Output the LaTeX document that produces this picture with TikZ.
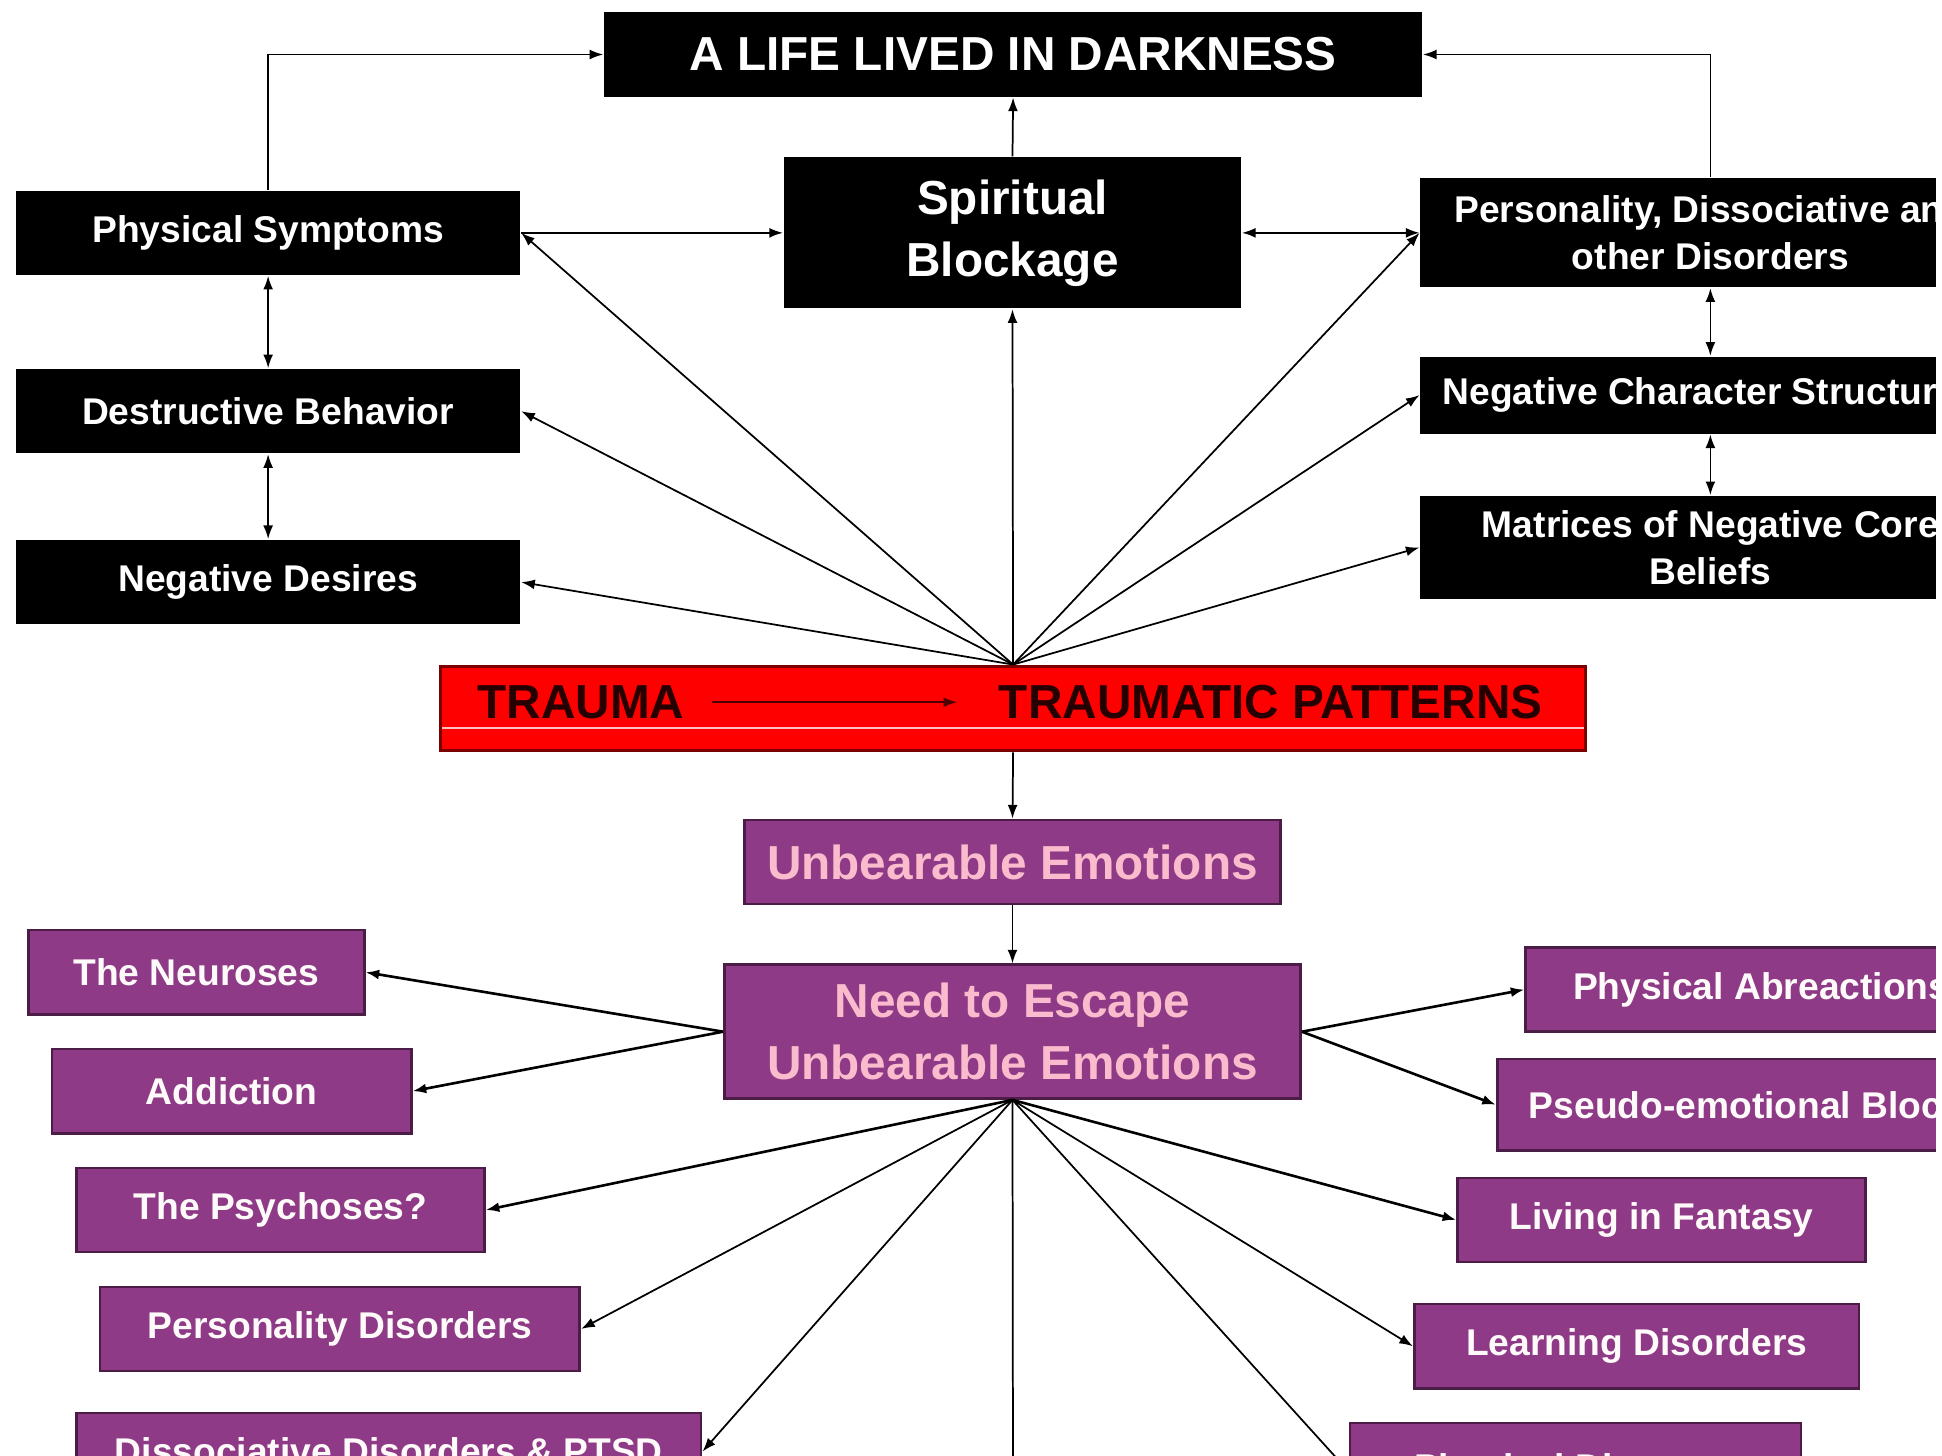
\documentclass[tikz,border=0pt]{standalone}
\usepackage{fontspec}
\setmainfont{Liberation Sans}
\usetikzlibrary{arrows.meta}
\definecolor{plum}{RGB}{142,58,135}
\definecolor{plumedge}{RGB}{75,28,70}
\definecolor{rose}{RGB}{250,188,204}
\definecolor{darkred}{RGB}{125,0,0}

\begin{document}
\begin{tikzpicture}[x=0.01cm,y=-0.01cm,
  small/.style={font=\bfseries\fontsize{8.54}{10.8}\selectfont},
  big/.style={font=\bfseries\fontsize{10.96}{14.2}\selectfont},
  blackbox/.style={fill=black,text=white,inner sep=0,align=center,small},
  purplebox/.style={fill=plum,draw=plumedge,line width=0.6pt,text=white!92!pink,inner sep=0,align=center,small},
  conn/.style={-{Latex[length=1.1mm,width=0.8mm]},line width=0.4pt},
  twoway/.style={{Latex[length=1.1mm,width=0.8mm]}-{Latex[length=1.1mm,width=0.8mm]},line width=0.4pt}]
\useasboundingbox (0,0) rectangle (1568,1175);
\clip (0,0) rectangle (1563,1175);
\node[blackbox,big,minimum width=6.6cm,minimum height=0.68cm] (title) at (818,44) {A LIFE LIVED IN DARKNESS};
\node[blackbox,big,minimum width=3.69cm,minimum height=1.22cm] (spirit) at (817.5,188) {Spiritual\\Blockage};
\node[blackbox,minimum width=4.07cm,minimum height=0.68cm] (physsym) at (216.5,188) {Physical Symptoms};
\node[blackbox,minimum width=4.07cm,minimum height=0.68cm] (destr) at (216.5,332) {Destructive Behavior};
\node[blackbox,minimum width=4.07cm,minimum height=0.68cm] (negdes) at (216.5,470) {Negative Desires};
\node[blackbox,minimum width=4.68cm,minimum height=0.88cm] (persdis) at (1381,188) {Personality, Dissociative and\\other Disorders};
\node[blackbox,minimum width=4.68cm,minimum height=0.62cm] (negchar) at (1381,319) {Negative Character Structures};
\node[blackbox,minimum width=4.68cm,minimum height=0.83cm] (matrices) at (1381,442) {Matrices of Negative Core\\Beliefs};
\node[fill=red,draw=darkred,line width=0.8pt,inner sep=0,minimum width=9.24cm,minimum height=0.68cm] (patterns) at (818,572) {};
\draw[white!75!red,line width=0.4pt] (357,588) -- (1279,588);
\node[big,text=black!85!red,inner sep=0] (trauma) at (469,567) {TRAUMA};
\node[big,text=black!85!red,inner sep=0] (tpat) at (1026,567) {TRAUMATIC PATTERNS};
\node[purplebox,big,text=rose,minimum width=4.33cm,minimum height=0.68cm] (unbear) at (817.5,696) {Unbearable Emotions};
\node[purplebox,big,text=rose,minimum width=4.65cm,minimum height=1.08cm] (escape) at (817.5,833) {Need to Escape\\Unbearable Emotions};
\node[purplebox,minimum width=2.71cm,minimum height=0.68cm] (neuroses) at (158.5,785) {The Neuroses};
\node[purplebox,minimum width=2.90cm,minimum height=0.68cm] (addiction) at (187,881) {Addiction};
\node[purplebox,minimum width=3.29cm,minimum height=0.68cm] (psychoses) at (226.5,977) {The Psychoses?};
\node[purplebox,minimum width=3.87cm,minimum height=0.68cm] (persdisorders) at (274.5,1073) {Personality Disorders};
\node[purplebox,minimum width=5.04cm,minimum height=0.62cm] (dissoc) at (314,1172) {Dissociative Disorders \& PTSD};
\node[purplebox,minimum width=3.80cm,minimum height=0.68cm] (abreact) at (1422,799) {Physical Abreactions};
\node[purplebox,minimum width=4.18cm,minimum height=0.74cm] (pseudo) at (1418,892) {Pseudo-emotional Blocks};
\node[purplebox,minimum width=3.29cm,minimum height=0.68cm] (fantasy) at (1341.5,985) {Living in Fantasy};
\node[purplebox,minimum width=3.59cm,minimum height=0.68cm] (learning) at (1321.5,1087) {Learning Disorders};
\node[purplebox,minimum width=3.64cm,minimum height=0.78cm] (physdis) at (1272,1188) {Physical Diseases};
\coordinate (offbelow) at (818,1260);
\draw[conn] (physsym.north) |- (title.west);
\draw[conn] (persdis.north) |- (title.east);
\draw[conn] (spirit.north) -- (title.south);
\draw[conn] (physsym.east) -- (spirit.west);
\draw[twoway] (spirit.east) -- (persdis.west);
\draw[twoway] (physsym.south) -- (destr.north);
\draw[twoway] (destr.south) -- (negdes.north);
\draw[twoway] (persdis.south) -- (negchar.north);
\draw[twoway] (negchar.south) -- (matrices.north);
\draw[conn] (patterns.north) -- (physsym.east);
\draw[conn] (patterns.north) -- (destr.east);
\draw[conn] (patterns.north) -- (negdes.east);
\draw[conn] (patterns.north) -- (spirit.south);
\draw[conn] (patterns.north) -- (persdis.west);
\draw[conn] (patterns.north) -- (negchar.west);
\draw[conn] (patterns.north) -- (matrices.west);
\draw[conn,draw=black!70!red,shorten <=0.22cm,shorten >=0.33cm] (trauma.east) -- (tpat.west);
\draw[conn] (patterns.south) -- (unbear.north);
\draw[conn] (unbear.south) -- (escape.north);
\draw[conn,line width=0.6pt] (escape.west) -- (neuroses.east);
\draw[conn,line width=0.6pt] (escape.west) -- (addiction.east);
\draw[conn,line width=0.6pt] (escape.east) -- (abreact.west);
\draw[conn,line width=0.6pt] (escape.east) -- (pseudo.west);
\draw[conn,line width=0.6pt] (escape.south) -- (psychoses.east);
\draw[conn] (escape.south) -- (persdisorders.east);
\draw[conn] (escape.south) -- (dissoc.east);
\draw[line width=0.4pt] (escape.south) -- (offbelow);
\draw[conn] (escape.south) -- (physdis.west);
\draw[conn] (escape.south) -- (learning.west);
\draw[conn,line width=0.6pt] (escape.south) -- (fantasy.west);
\end{tikzpicture}
\end{document}
